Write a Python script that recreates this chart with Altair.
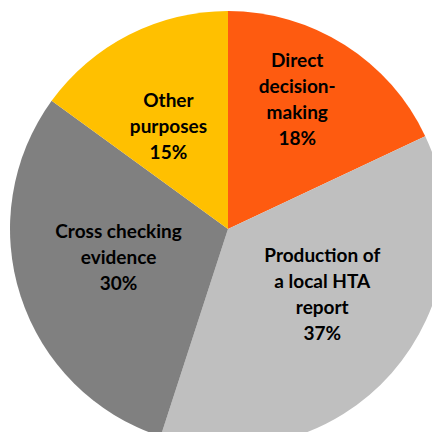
import altair as alt
import pandas as pd

categories = ["Direct decision-making", "Production of a local HTA report",
              "Cross checking evidence", "Other purposes"]
values = [18, 37, 30, 15]
label_lines = ["Direct\ndecision-\nmaking", "Production of\na local HTA\nreport",
               "Cross checking\nevidence", "Other\npurposes"]
colors = ["#FE5B10", "#BFBFBF", "#808080", "#FFC000"]

df = pd.DataFrame({
    "category": categories,
    "value": values,
    "order": list(range(len(categories))),
    "label": [f"{l}\n{v}%" for l, v in zip(label_lines, values)],
})

CX, CY, R = 220, 221, 218

base = alt.Chart(df).encode(
    theta=alt.Theta("value:Q", stack=True),
    order=alt.Order("order:Q"),
)

pie = base.mark_arc(outerRadius=R).encode(
    x=alt.value(CX), y=alt.value(CY),
    color=alt.Color("category:N", scale=alt.Scale(domain=categories, range=colors), legend=None),
)

# per-label placement (radius, dx, dy) ; dy puts the first line at the top of the block
placements = [(146, -9, -45), (115, 8, -49), (113, -2, -32), (118, -6, -23)]
layers = [pie]
for cat, (r, ddx, ddy) in zip(categories, placements):
    layers.append(
        base.mark_text(radius=r, dx=ddx, dy=ddy, font="Lato", fontSize=19, fontWeight="bold",
                       lineBreak="\n", lineHeight=26, align="center", baseline="middle",
                       color="#000000").encode(
            x=alt.value(CX), y=alt.value(CY),
            text=alt.condition(alt.datum.category == cat, alt.Text("label:N"), alt.value("")),
        )
    )

chart = alt.layer(*layers).properties(
    width=424, height=424, autosize="none", padding=0
).configure_view(stroke=None)

chart.save("out.html", embed_options={"renderer": "svg", "actions": False})
